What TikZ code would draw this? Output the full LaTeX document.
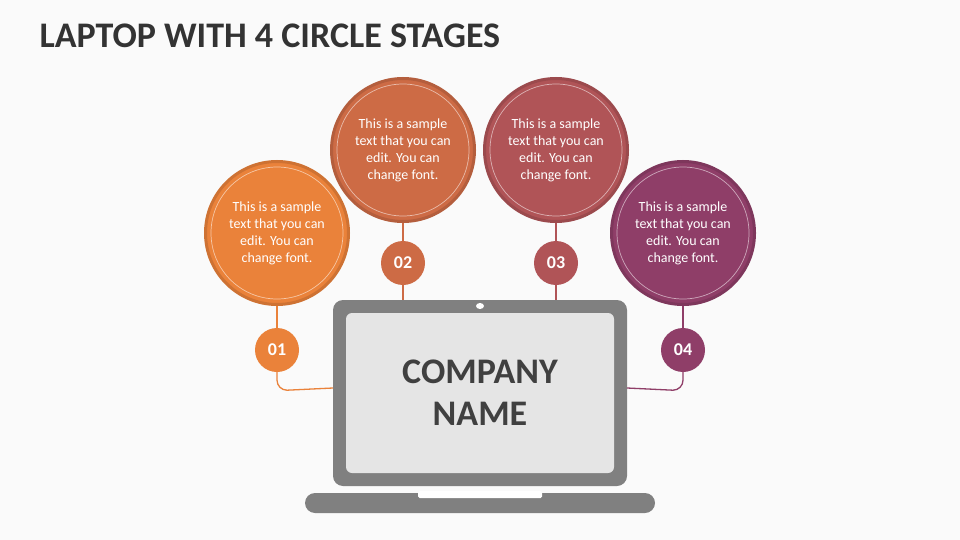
\documentclass[tikz,border=0pt]{standalone}
\usepackage{fontspec}
\setmainfont{Carlito}
\begin{document}
\begin{tikzpicture}[x=1pt,y=-1pt,
 big/.style={circle,minimum size=143pt,inner sep=0pt,draw=#1!88!black,line width=3pt,fill=#1},
 small/.style={circle,minimum size=44pt,inner sep=0pt,fill=#1,text=white,font=\fontsize{18}{20}\selectfont\bfseries},
 link/.style={draw=#1,line width=1.3pt}]
\definecolor{cA}{HTML}{EA823A}\definecolor{cB}{HTML}{CD6B45}
\definecolor{cC}{HTML}{B05457}\definecolor{cD}{HTML}{8F3E68}
\definecolor{lg}{HTML}{808080}
\fill[white!98!black] (0,0) rectangle (960,540);
\node[anchor=west,font=\fontsize{36}{38}\selectfont\bfseries,text=black!80] (title) at (36,36) {LAPTOP WITH 4 CIRCLE STAGES};
% laptop
\fill[lg,rounded corners=10pt] (333,300) rectangle (627,486);
\fill[black!10,rounded corners=6pt] (346,313) rectangle (614,473);
\fill[white] (480,306) ellipse (4pt and 3pt);
\fill[lg,rounded corners=10pt] (305,493) rectangle (655,513);
\fill[white,rounded corners=1.5pt] (418,491) rectangle (542,498);
\node[font=\fontsize{36}{42}\selectfont\bfseries,text=black!75,align=center] (cn) at (480,393) {COMPANY\\NAME};
\coordinate (L) at (333,388); \coordinate (R) at (627,388);
\coordinate (T2) at (403,300); \coordinate (T3) at (556,300);
% circles
\foreach \n/\x/\y/\sx/\sy/\c in {1/277/233/277/350/cA,2/403/150/403/263/cB,3/556/150/556/263/cC,4/683/233/683/350/cD}{
 \node[big=\c] (b\n) at (\x,\y) {};
 \draw[white!55!\c,line width=0.7pt] (\x,\y) circle (66pt);
 \node[small=\c] (s\n) at (\sx,\sy) {0\n};
 \draw[link=\c] (b\n.south) -- (s\n.north);
 \node[text=white,align=center,font=\fontsize{14}{17}\selectfont] at (\x,\y) {This is a sample\\text that you can\\edit. You can\\change font.};
}
\draw[link=cA] (s1.south) -- ++(0,8) to[out=-90,in=180] ++(10,10) -- (L);
\draw[link=cD] (s4.south) -- ++(0,8) to[out=-90,in=0] ++(-10,10) -- (R);
\draw[link=cB] (s2.south) -- (T2);
\draw[link=cC] (s3.south) -- (T3);
\end{tikzpicture}
\end{document}
